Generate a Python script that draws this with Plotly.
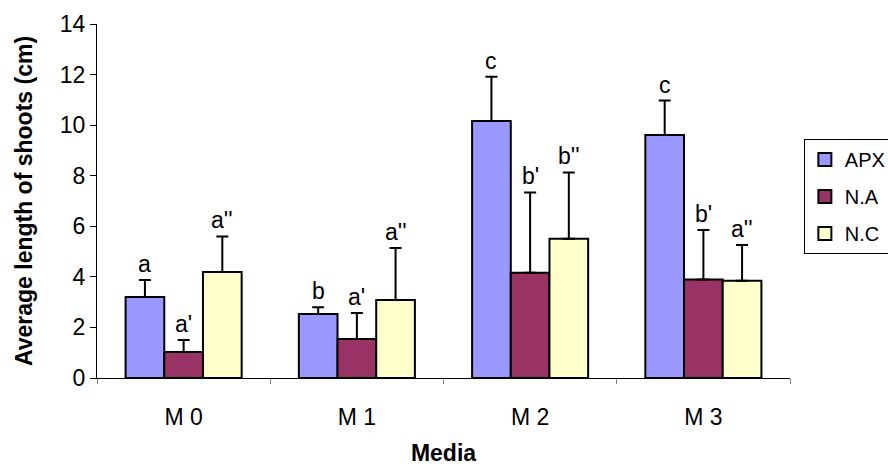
import plotly.graph_objects as go

categories = ["M 0", "M 1", "M 2", "M 3"]
series_names = ["APX", "N.A", "N.C"]
apx = [3.2, 2.53, 10.16, 9.61]
na = [1.03, 1.54, 4.16, 3.9]
nc = [4.19, 3.08, 5.51, 3.85]
apx_err = [0.68, 0.27, 1.75, 1.36]
na_err = [0.47, 1.03, 3.18, 1.95]
nc_err = [1.41, 2.06, 2.62, 1.41]
apx_lab = ["a", "b", "c", "c"]
na_lab = ["a'", "a'", "b'", "b'"]
nc_lab = ["a''", "a''", "b''", "a''"]

colors = ["#9999FF", "#993366", "#FFFFCC"]
values = [apx, na, nc]
errs = [apx_err, na_err, nc_err]
labs = [apx_lab, na_lab, nc_lab]
FONT = "Liberation Sans, Arial"

fig = go.Figure()
for name, v, e, c in zip(series_names, values, errs, colors):
    fig.add_trace(go.Bar(
        name=name, x=categories, y=v, showlegend=False,
        marker=dict(color=c, line=dict(color="black", width=2)),
        error_y=dict(type="data", array=e, arrayminus=[0]*len(e), symmetric=False,
                     color="black", thickness=2, width=6),
    ))
# legend entries with square symbols
for name, c in zip(series_names, colors):
    fig.add_trace(go.Scatter(
        x=[None], y=[None], mode="markers", name=name, legendgroup=name,
        marker=dict(symbol="square", size=13, color=c, line=dict(color="black", width=2)),
    ))

# letters above error bars
for k, (v, e, l) in enumerate(zip(values, errs, labs)):
    for i, cat in enumerate(categories):
        fig.add_annotation(
            x=i + (k - 1) * 0.223, y=v[i] + e[i], xref="x", yref="y",
            text=l[i], showarrow=False, yanchor="bottom", yshift=1,
            font=dict(family=FONT, size=23, color="black"),
        )

fig.update_layout(
    barmode="group", bargap=0.33, bargroupgap=0,
    width=888, height=466,
    margin=dict(l=97, r=98, t=24, b=88, autoexpand=False),
    plot_bgcolor="white", paper_bgcolor="white",
    font=dict(family=FONT, size=23, color="black"),
    showlegend=True,
    legend=dict(x=1.02, y=0.675, xanchor="left", yanchor="top",
                bordercolor="black", borderwidth=1, font=dict(size=20),
                tracegroupgap=8, itemwidth=30),
    xaxis=dict(title=dict(text="<b>Media</b>", font=dict(size=23), standoff=22),
               automargin=False,
               showline=True, linecolor="black", linewidth=1,
               ticks="outside", tickson="boundaries", ticklen=5, tickcolor="gray",
               ticklabelstandoff=18, showgrid=False),
    yaxis=dict(title=dict(text="<b>Average length of shoots (cm)</b>", font=dict(size=23), standoff=20),
               automargin=False,
               range=[0, 14], dtick=2, showline=True, linecolor="black", linewidth=1,
               ticks="outside", ticklen=6, tickcolor="black", showgrid=False, zeroline=False),
)

fig.write_html("out.html", config={"displayModeBar": False},
               post_script="document.body.style.margin='0';document.body.style.overflow='hidden';")
